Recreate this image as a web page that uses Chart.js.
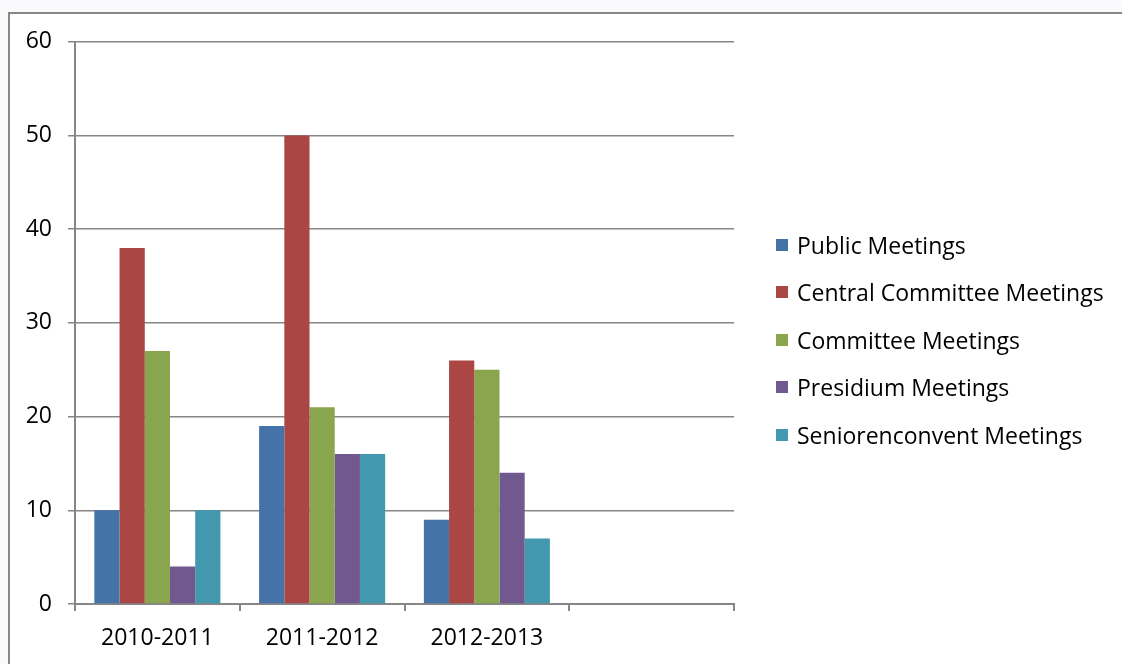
<!DOCTYPE html>
<html>
<head>
<meta charset="utf-8">
<script src="https://cdn.jsdelivr.net/npm/chart.js@4"></script>
<style>
  body { margin: 0; background: #fafafc; width: 1122px; height: 664px; overflow: hidden; }
  #frame {
    position: absolute; left: 8px; top: 12px; width: 1114px; height: 652px;
    border-left: 2px solid #878787; border-top: 2px solid #878787; background: #fff;
  }
  #chartBox { position: absolute; left: 0; top: -2px; width: 1112px; height: 652px; }
  #legend {
    position: absolute; left: 766px; top: 207px;
    font-family: "Open Sans", sans-serif; font-size: 23px; color: #000;
  }
  .legend-item { height: 47.5px; display: flex; align-items: center; white-space: nowrap; }
  .legend-box { width: 12px; height: 12px; margin-right: 9px; }
</style>
</head>
<body>
<div id="frame">
  <div id="chartBox"><canvas id="meetingsChart"></canvas></div>
  <div id="legend"></div>
</div>
<script>
const years = ["2010-2011", "2011-2012", "2012-2013", ""];
const seriesNames = [
  "Public Meetings",
  "Central Committee Meetings",
  "Committee Meetings",
  "Presidium Meetings",
  "Seniorenconvent Meetings"
];
const publicMeetings = [10, 19, 9, null];
const centralCommittee = [38, 50, 26, null];
const committee = [27, 21, 25, null];
const presidium = [4, 16, 14, null];
const seniorenconvent = [10, 16, 7, null];
const yTicks = [0, 10, 20, 30, 40, 50, 60];

const colors = ["#4572a7", "#aa4643", "#89a54e", "#71588f", "#4198af"];
const allSeries = [publicMeetings, centralCommittee, committee, presidium, seniorenconvent];

const axisColor = "#868686";
const font = { family: "Open Sans", size: 23 };

const ctx = document.getElementById("meetingsChart");

new Chart(ctx, {
  type: "bar",
  data: {
    labels: years,
    datasets: allSeries.map((values, i) => ({
      label: seriesNames[i],
      data: values,
      backgroundColor: colors[i],
      borderWidth: 0,
      categoryPercentage: 0.765,
      barPercentage: 1.0
    }))
  },
  options: {
    responsive: true,
    maintainAspectRatio: false,
    animation: false,
    layout: { padding: { top: 26, right: 388, bottom: 0, left: 0 } },
    scales: {
      x: {
        grid: {
          offset: true,
          drawOnChartArea: false,
          drawTicks: true,
          tickLength: 7,
          color: axisColor,
          lineWidth: 2
        },
        border: { color: axisColor, width: 2 },
        ticks: { color: "#000", font: font, padding: 14, maxRotation: 0 },
        afterFit: scale => { scale.height = 60; }
      },
      y: {
        min: 0,
        max: 60,
        afterBuildTicks: scale => { scale.ticks = yTicks.map(v => ({ value: v })); },
        grid: { color: axisColor, lineWidth: 1.5, tickLength: 7 },
        border: { color: axisColor, width: 2 },
        ticks: { color: "#000", font: font, padding: 16 },
        afterFit: scale => { scale.width = 65; }
      }
    },
    plugins: {
      legend: { display: false },
      tooltip: { enabled: false }
    }
  }
});

// Legend on the right
const legend = document.getElementById("legend");

seriesNames.forEach((name, i) => {
  const item = document.createElement("div");
  item.className = "legend-item";
  item.innerHTML = `
    <span class="legend-box" style="background: ${colors[i]}"></span>
    <span>${name}</span>
  `;
  legend.appendChild(item);
});
</script>
</body>
</html>
